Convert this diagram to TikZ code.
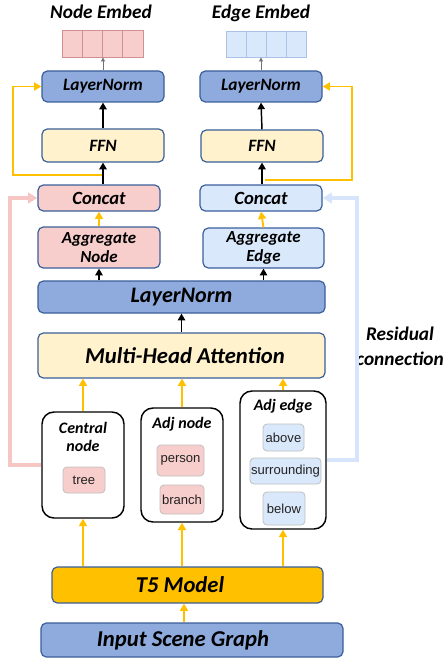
\documentclass[tikz,border=0pt]{standalone}
\usepackage{fontspec}
\setmainfont{Carlito}
\newfontfamily\labelfont{Liberation Sans}
\usetikzlibrary{arrows.meta}

\definecolor{pinkfill}{HTML}{F8CECC}
\definecolor{bluefill}{HTML}{DAE8FC}
\definecolor{creamfill}{HTML}{FFF2CC}
\definecolor{normfill}{HTML}{8FAADC}
\definecolor{tfivefill}{HTML}{FFC000}
\definecolor{boxline}{HTML}{3A5F9A}
\definecolor{flow}{HTML}{FFC000}
\definecolor{pinkcell}{HTML}{D09090}
\definecolor{bluecell}{HTML}{A9C2E6}
\definecolor{pinkres}{HTML}{F6C6C4}
\definecolor{blueres}{HTML}{D6E5FB}
\definecolor{tagtext}{HTML}{222222}

\newcommand{\fsz}[1]{\fontsize{#1}{#1}\selectfont}

% \blk{style}{name}{x1}{y1}{x2}{y2}{text}: a node spanning the given pixel box
\newcommand{\blk}[7]{%
  \pgfmathsetmacro\blkw{((#5)-(#3))*0.75}%
  \pgfmathsetmacro\blkh{((#6)-(#4))*0.75}%
  \node[#1, minimum width=\blkw pt, minimum height=\blkh pt]
    (#2) at ({((#3)+(#5))/2},{((#4)+(#6))/2}) {#7};}

\tikzset{
  unitbox/.style={draw=boxline, line width=0.9pt, rounded corners=4pt,
    inner sep=0pt, align=center, font=\bfseries\itshape},
  normbox/.style={unitbox, fill=normfill},
  creambox/.style={unitbox, fill=creamfill},
  pinkbox/.style={unitbox, fill=pinkfill},
  bluebox/.style={unitbox, fill=bluefill},
  groupbox/.style={draw=black, line width=1.1pt, rounded corners=9pt,
    fill=white, inner sep=0pt},
  tagbox/.style={draw=black!25, line width=0.6pt, rounded corners=3pt,
    inner sep=0pt, text=tagtext, font=\labelfont\fsz{9.8}},
  celln/.style={draw=pinkcell, line width=0.7pt, fill=pinkfill, inner sep=0pt},
  celle/.style={draw=bluecell, line width=0.7pt, fill=bluefill, inner sep=0pt},
  title/.style={font=\bfseries\itshape, align=center, inner sep=0pt},
  flowarrow/.style={draw=flow, line width=1.4pt, -{Triangle[width=6pt,length=5.5pt]}},
  darkarrow/.style={draw=black, line width=1.1pt, -{Triangle[width=5.5pt,length=5pt]}},
  greyarrow/.style={draw=black!55, line width=0.6pt, -{Triangle[width=3pt,length=3pt]}},
  residual/.style={line width=2.6pt, -{Triangle[width=8pt,length=7pt]}},
}

\begin{document}
\begin{tikzpicture}[x=0.75pt,y=-0.75pt]
\useasboundingbox (0,0) rectangle (446,663);

% output embeddings
\node[title, font=\bfseries\itshape\fsz{14.5}] (nt) at (101,12) {Node Embed};
\node[title, font=\bfseries\itshape\fsz{14.5}] (et) at (261,13) {Edge Embed};
\foreach \i in {1,...,4} {
  \blk{celln}{n\i}{62+(\i-1)*20.25}{30}{62+\i*20.25}{57}{}
  \blk{celle}{e\i}{226+(\i-1)*20}{31}{226+\i*20}{57}{}
}

% node branch
\blk{normbox, font=\bfseries\itshape\fsz{13}}{lnA}{42}{71}{164}{102}{LayerNorm}
\blk{creambox, font=\bfseries\itshape\fsz{13}}{ffA}{42}{129}{164}{162}{FFN}
\blk{pinkbox, font=\bfseries\itshape\fsz{14}}{ccA}{38}{185}{160}{211}{Concat}
\blk{pinkbox, font=\bfseries\itshape\fsz{12.7}}{agA}{38}{227}{160}{268}{Aggregate\\[2pt]Node}

% edge branch
\blk{normbox, font=\bfseries\itshape\fsz{13}}{lnB}{200}{71}{322}{102}{LayerNorm}
\blk{creambox, font=\bfseries\itshape\fsz{13}}{ffB}{201}{130}{323}{162}{FFN}
\blk{bluebox, font=\bfseries\itshape\fsz{14}}{ccB}{200}{185}{322}{211}{Concat}
\blk{bluebox, font=\bfseries\itshape\fsz{12.7}}{agB}{203}{228}{324}{268}{Aggregate\\[2pt]Edge}

% shared layers
\blk{normbox, font=\bfseries\itshape\fsz{16.6}}{lnC}{38}{281}{325}{313}{LayerNorm}
\blk{creambox}{mha}{38}{333}{325}{378}{}
\node[title, font=\bfseries\itshape\fsz{17}] at (185,356) {Multi-Head Attention};

% input groups
\blk{groupbox}{ctr}{42}{412}{124}{518}{}
\node[title, font=\bfseries\itshape\fsz{12}] at (83,437) {Central\\[2pt]node};
\blk{tagbox, fill=pinkfill}{tree}{63}{467}{105}{493}{tree}

\blk{groupbox}{adn}{141}{408}{223}{522}{}
\node[title, font=\bfseries\itshape\fsz{12}] at (182,424) {Adj node};
\blk{tagbox, fill=pinkfill}{person}{157}{445}{204}{476}{person}
\blk{tagbox, fill=pinkfill}{branch}{160}{485}{204}{514}{branch}

\blk{groupbox}{ade}{240}{391}{326}{529}{}
\node[title, font=\bfseries\itshape\fsz{12}] at (283,406) {Adj edge};
\blk{tagbox, fill=bluefill}{above}{263}{424}{304}{451}{above}
\blk{tagbox, fill=bluefill}{surr}{250}{458}{321}{484}{surrounding}
\blk{tagbox, fill=bluefill}{below}{263}{492}{305}{525}{below}

% encoder and input
\blk{unitbox, fill=tfivefill}{tfive}{52}{567}{323}{603}{}
\node[title, font=\bfseries\itshape\fsz{17}] at (180,585) {T5 Model};
\blk{normbox}{inp}{41}{623}{343}{657}{}
\node[title, font=\bfseries\itshape\fsz{17}] at (183,640) {Input Scene Graph};

\node[title, font=\bfseries\itshape\fsz{14.5}] (res) at (400,346) {Residual\\[4pt]connection};

% flow between layers
\draw[greyarrow] (lnA.north) -- (lnA.north |- n1.south);
\draw[greyarrow] (lnB.north) -- (lnB.north |- e1.south);
\draw[darkarrow] (ffA.north) -- (lnA.south);
\draw[darkarrow] (ffB.north) -- (lnB.south);
\draw[darkarrow] (ccA.north -| ffA.south) -- (ffA.south);
\draw[darkarrow] (ccB.north -| ffB.south) -- (ffB.south);
\draw[flowarrow] (agA.north) -- (ccA.south);
\draw[flowarrow] (agB.north) -- (ccB.south);
\draw[darkarrow] (lnC.north -| agA.south) -- (agA.south);
\draw[darkarrow] (lnC.north -| agB.south) -- (agB.south);
\draw[darkarrow] (mha.north) -- (mha.north |- lnC.south);

% skip connections around the FFN
\coordinate (splitA) at (102,175);
\coordinate (splitB) at (265,180);
\draw[flowarrow] (splitA) -- (13,175) |- (lnA.west);
\draw[flowarrow] (splitB) -- (352,180) |- (lnB.east);

% residual connections
\draw[residual, draw=pinkres] (ctr.west) -- (10,465) |- (ccA.west);
\draw[residual, draw=blueres] (ade.east) -- (357,460) |- (ccB.east);

% groups into attention
\draw[flowarrow] (ctr.north) -- (ctr.north |- mha.south);
\draw[flowarrow] (adn.north) -- (adn.north |- mha.south);
\draw[flowarrow] (ade.north) -- (ade.north |- mha.south);

% encoder into groups
\draw[flowarrow] (tfive.north -| ctr.south) -- (ctr.south);
\draw[flowarrow] (tfive.north -| adn.south) -- (adn.south);
\draw[flowarrow] (tfive.north -| ade.south) -- (ade.south);
\draw[flowarrow] (inp.north -| 184,0) -- (tfive.south -| 184,0);
\end{tikzpicture}
\end{document}
